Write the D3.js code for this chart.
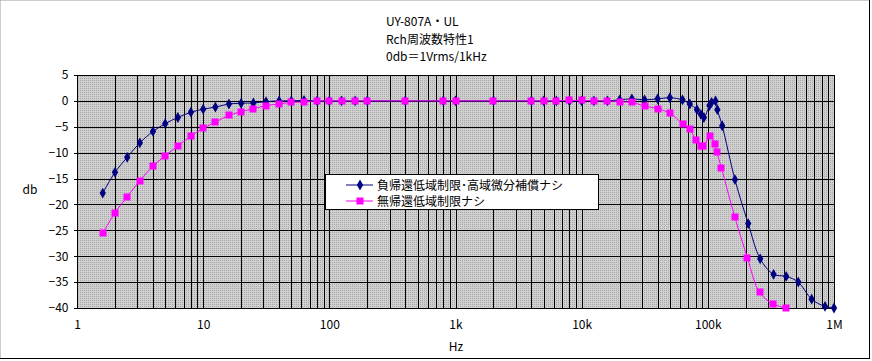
<!DOCTYPE html>
<html>
<head>
<meta charset="utf-8">
<script src="https://cdn.jsdelivr.net/npm/d3@7"></script>
<style>
  body { margin: 0; background: #fff; }
  text { font-family: "Noto Sans CJK JP", "Noto Sans", sans-serif; fill: #000; }
</style>
</head>
<body>
<div id="chart"></div>
<script>
// frequency (Hz) and level (dB) for each series
const blueHz = [1.6, 2, 2.5, 3.15, 4, 5, 6.3, 8, 10, 12.5, 16, 20, 25, 31.5, 40, 50, 63, 80, 100, 125, 160, 200, 400, 800, 1000, 2000, 4000, 5000, 6300, 8000, 10000, 12500, 16000, 20000, 25000, 31500, 40000, 50000, 63000, 72000, 82000, 88000, 93000, 103000, 107000, 115000, 119000, 130000, 164000, 209000, 260000, 332000, 418000, 521000, 665000, 849000, 1000000];
const blueDb = [-17.8, -13.8, -10.9, -8.1, -5.9, -4.4, -3.2, -2.2, -1.6, -1.2, -0.6, -0.45, -0.4, -0.15, 0, 0, 0.1, 0, 0, 0, 0, 0, 0, 0, 0, 0, 0, 0, 0, 0, 0, 0, 0, 0.2, 0.4, 0.2, 0.4, 0.6, 0.2, -0.6, -1.7, -2.6, -3.2, -0.9, -0.3, 0, -1.7, -4.8, -15.2, -23.7, -30.5, -33.5, -33.9, -35, -38.3, -39.7, -40];

const pinkHz = [1.6, 2, 2.5, 3.15, 4, 5, 6.3, 8, 10, 12.5, 16, 20, 25, 31.5, 40, 50, 63, 80, 100, 125, 160, 200, 400, 800, 1000, 2000, 4000, 5000, 6300, 8000, 10000, 12500, 16000, 20000, 25000, 31500, 40000, 50000, 63000, 72000, 80000, 88000, 92000, 104000, 114000, 118000, 128000, 164000, 206000, 257000, 328000, 414000];
const pinkDb = [-25.6, -21.6, -18.5, -15.4, -12.6, -10.6, -8.7, -6.8, -5.3, -4.1, -2.8, -2.1, -1.5, -0.9, -0.6, -0.3, -0.2, 0, 0, 0, 0, 0, 0, 0, 0, 0, 0, 0, 0, 0.1, 0.1, 0, 0, -0.2, -0.3, -1.0, -1.5, -2.4, -4.4, -5.5, -7.5, -8.7, -8.8, -6.8, -8.3, -9.9, -12.9, -22.5, -30.3, -37, -39.2, -40];

const seriesNames = ["負帰還低域制限･高域微分補償ナシ", "無帰還低域制限ナシ"];
const titleLines = ["UY-807A・UL", "Rch周波数特性1", "0db＝1Vrms/1kHz"];
const xTicks = [1, 10, 100, 1000, 10000, 100000, 1000000];
const xTickLabels = ["1", "10", "100", "1k", "10k", "100k", "1M"];
const yTicks = [5, 0, -5, -10, -15, -20, -25, -30, -35, -40];

const W = 872, H = 361;
const plot = { left: 77, right: 834, top: 75, bottom: 308 };

const svg = d3.select('#chart').append('svg')
  .attr('width', W)
  .attr('height', H);

// dotted grey fill like the old spreadsheet pattern
const defs = svg.append('defs');
const pat = defs.append('pattern')
  .attr('id', 'dots')
  .attr('width', 2)
  .attr('height', 2)
  .attr('patternUnits', 'userSpaceOnUse');
pat.append('rect').attr('width', 2).attr('height', 2).attr('fill', '#d0d0d0');
pat.append('rect').attr('width', 1).attr('height', 1).attr('fill', '#a8a8a8');

// outer frame
svg.append('line').attr('x1', 0.5).attr('y1', 0.5).attr('x2', W - 3).attr('y2', 0.5)
  .attr('stroke', '#999').attr('stroke-dasharray', '1,1');
svg.append('line').attr('x1', 0.5).attr('y1', 0.5).attr('x2', 0.5).attr('y2', H - 3)
  .attr('stroke', '#999').attr('stroke-dasharray', '1,1');
svg.append('line').attr('x1', 0).attr('y1', H - 2.5).attr('x2', W - 2).attr('y2', H - 2.5)
  .attr('stroke', '#000').attr('stroke-width', 1);
svg.append('line').attr('x1', W - 2.5).attr('y1', 0).attr('x2', W - 2.5).attr('y2', H - 2)
  .attr('stroke', '#000').attr('stroke-width', 1);

const x = d3.scaleLog().domain([1, 1e6]).range([plot.left, plot.right]);
const y = d3.scaleLinear().domain([-40, 5]).range([plot.bottom, plot.top]);

svg.append('rect')
  .attr('x', plot.left)
  .attr('y', plot.top)
  .attr('width', plot.right - plot.left)
  .attr('height', plot.bottom - plot.top)
  .attr('fill', 'url(#dots)');

// grid lines
const minor = [];
for (let p = 0; p < 6; p++) {
  for (let n = 1; n <= 9; n++) minor.push(n * Math.pow(10, p));
}
minor.push(1e6);

svg.append('g')
  .selectAll('line')
  .data(minor)
  .join('line')
  .attr('x1', d => Math.round(x(d)) + 0.5)
  .attr('x2', d => Math.round(x(d)) + 0.5)
  .attr('y1', plot.top)
  .attr('y2', plot.bottom)
  .attr('stroke', '#000')
  .attr('shape-rendering', 'crispEdges');

svg.append('g')
  .selectAll('line')
  .data(yTicks)
  .join('line')
  .attr('x1', plot.left)
  .attr('x2', plot.right)
  .attr('y1', d => Math.round(y(d)) + 0.5)
  .attr('y2', d => Math.round(y(d)) + 0.5)
  .attr('stroke', '#000')
  .attr('shape-rendering', 'crispEdges');

svg.append('rect')
  .attr('x', plot.left + 0.5)
  .attr('y', plot.top + 0.5)
  .attr('width', plot.right - plot.left)
  .attr('height', plot.bottom - plot.top)
  .attr('fill', 'none')
  .attr('stroke', '#000')
  .attr('shape-rendering', 'crispEdges');

// axes
const yAxis = d3.axisLeft(y).tickValues(yTicks).tickSize(4).tickPadding(5)
  .tickFormat(d => d < 0 ? '\u2212' + Math.abs(d) : d);
const gy = svg.append('g').attr('transform', `translate(${plot.left + 0.5},0)`).call(yAxis);
gy.select('.domain').remove();
gy.selectAll('text').attr('font-size', '12px').style('font-family', '"Noto Sans CJK JP", sans-serif');
gy.selectAll('line').attr('shape-rendering', 'crispEdges');

const xAxis = d3.axisBottom(x).tickValues(xTicks).tickSize(0).tickPadding(12)
  .tickFormat((d, i) => xTickLabels[i]);
const gx = svg.append('g').attr('transform', `translate(0,${plot.bottom})`).call(xAxis);
gx.select('.domain').remove();
gx.selectAll('text').attr('font-size', '12px').style('font-family', '"Noto Sans CJK JP", sans-serif');

svg.append('text').text('db').attr('x', 30).attr('y', 194)
  .attr('text-anchor', 'middle').attr('font-size', '12px');
svg.append('text').text('Hz').attr('x', 456).attr('y', 351)
  .attr('text-anchor', 'middle').attr('font-size', '12px');

// title
svg.append('g')
  .selectAll('text')
  .data(titleLines)
  .join('text')
  .text(d => d)
  .attr('x', 386)
  .attr('y', (d, i) => 26 + i * 17.5)
  .attr('font-size', '12px');

// series
const line = d3.line()
  .x(d => x(d[0]))
  .y(d => y(d[1]))
  .curve(d3.curveCatmullRom.alpha(0.5));

const blue = blueHz.map((f, i) => [f, blueDb[i]]);
const pink = pinkHz.map((f, i) => [f, pinkDb[i]]);
const navy = '#000080', magenta = '#ff00ff';

const diamond = d3.symbol().type(d3.symbolDiamond).size(34);

svg.append('path').datum(blue)
  .attr('d', line).attr('fill', 'none').attr('stroke', navy).attr('stroke-width', 1);
svg.append('g').selectAll('path').data(blue).join('path')
  .attr('d', diamond)
  .attr('transform', d => `translate(${x(d[0])},${y(d[1])})`)
  .attr('fill', navy);

svg.append('path').datum(pink)
  .attr('d', line).attr('fill', 'none').attr('stroke', magenta).attr('stroke-width', 1);
svg.append('g').selectAll('rect').data(pink).join('rect')
  .attr('x', d => Math.round(x(d[0])) - 3.5)
  .attr('y', d => Math.round(y(d[1])) - 3.5)
  .attr('width', 7).attr('height', 7)
  .attr('fill', magenta);

// legend
const lg = svg.append('g').attr('transform', 'translate(325,174)');
lg.append('rect').attr('x', 0.5).attr('y', 0.5).attr('width', 273).attr('height', 35)
  .attr('fill', '#fff').attr('stroke', '#000').attr('shape-rendering', 'crispEdges');
const rows = lg.selectAll('g.row').data(seriesNames).join('g')
  .attr('class', 'row')
  .attr('transform', (d, i) => `translate(0,${11 + i * 16})`);
rows.append('line').attr('x1', 21).attr('x2', 48).attr('y1', 0).attr('y2', 0)
  .attr('stroke', (d, i) => i === 0 ? navy : magenta);
rows.filter((d, i) => i === 0).append('path')
  .attr('d', diamond).attr('transform', 'translate(35,0)').attr('fill', navy);
rows.filter((d, i) => i === 1).append('rect')
  .attr('x', 31.5).attr('y', -3.5).attr('width', 7).attr('height', 7).attr('fill', magenta);
rows.append('text').text(d => d).attr('x', 52).attr('y', 4.5).attr('font-size', '12px');
</script>
</body>
</html>
